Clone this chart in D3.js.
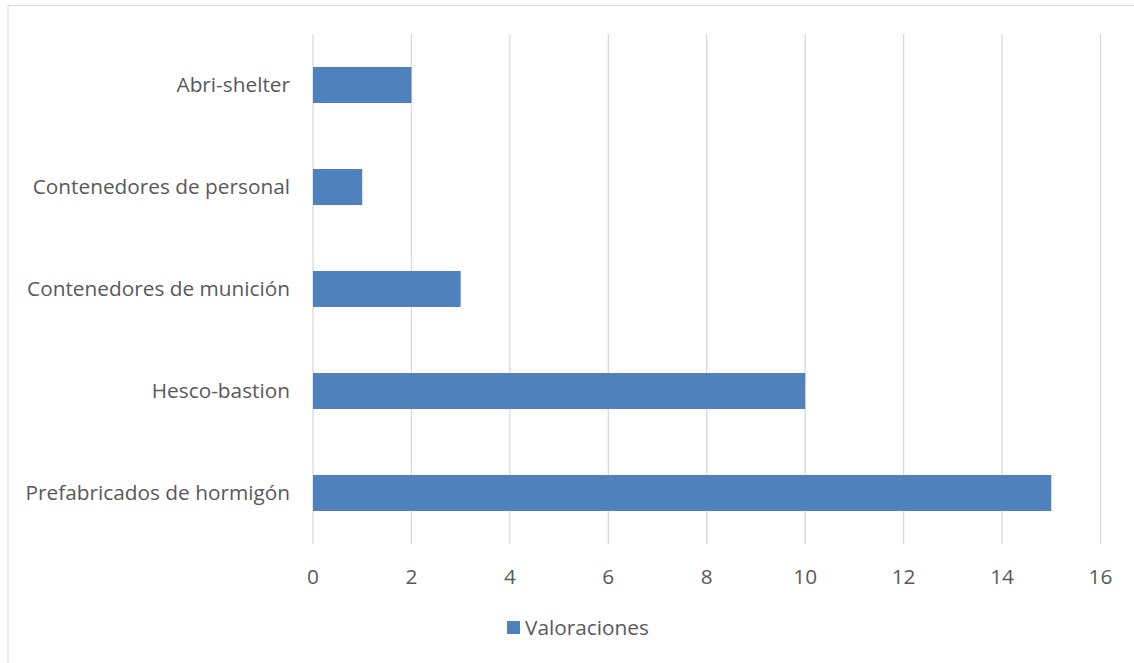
<!DOCTYPE html>
<html><head><meta charset="utf-8">
<script src="https://cdn.jsdelivr.net/npm/d3@7"></script>
<style>body{margin:0;background:#fff;} svg{display:block;} text{font-family:"Open Sans", sans-serif;}</style>
</head><body>
<script>
const categories = ["Abri-shelter","Contenedores de personal","Contenedores de munición","Hesco-bastion","Prefabricados de hormigón"];
const values = [2,1,3,10,15];
const xTicks = [0,2,4,6,8,10,12,14,16];
const seriesName = "Valoraciones";

const W=1134,H=663;
const svg=d3.select("body").append("svg").attr("width",W).attr("height",H);
svg.append("rect").attr("x",8).attr("y",5.5).attr("width",W+10).attr("height",H+10)
  .attr("fill","#fff").attr("stroke","#d9d9d9").attr("stroke-width",1);

const x=d3.scaleLinear().domain([0,16]).range([313,1100.5]);
const y=d3.scaleBand().domain(categories).range([34,544]).paddingInner(0.647).paddingOuter(0.3235);

const grid=svg.append("g");
grid.selectAll("line").data(xTicks).join("line")
  .attr("x1",d=>x(d)).attr("x2",d=>x(d)).attr("y1",34).attr("y2",544)
  .attr("stroke","#d9d9d9").attr("stroke-width",1.3);

svg.append("g").selectAll("rect").data(categories).join("rect")
  .attr("x",x(0)).attr("y",d=>y(d)).attr("height",y.bandwidth())
  .attr("width",(d,i)=>x(values[i])-x(0)).attr("fill","#4f81bd");

const fs=20.8;
svg.append("g").selectAll("text").data(categories).join("text")
  .attr("x",290).attr("y",d=>y(d)+y.bandwidth()/2).attr("dy","0.35em")
  .attr("text-anchor","end").attr("fill","#595959").attr("font-size",fs).text(d=>d);

svg.append("g").selectAll("text").data(xTicks).join("text")
  .attr("x",d=>x(d)).attr("y",577).attr("dy","0.35em").attr("text-anchor","middle")
  .attr("fill","#595959").attr("font-size",fs).text(d=>d);

const lg=svg.append("g");
lg.append("rect").attr("x",507).attr("y",621).attr("width",13).attr("height",13).attr("fill","#4f81bd");
lg.append("text").attr("x",525).attr("y",628).attr("dy","0.35em").attr("fill","#595959")
  .attr("font-size",fs).text(seriesName);
</script>
</body></html>
